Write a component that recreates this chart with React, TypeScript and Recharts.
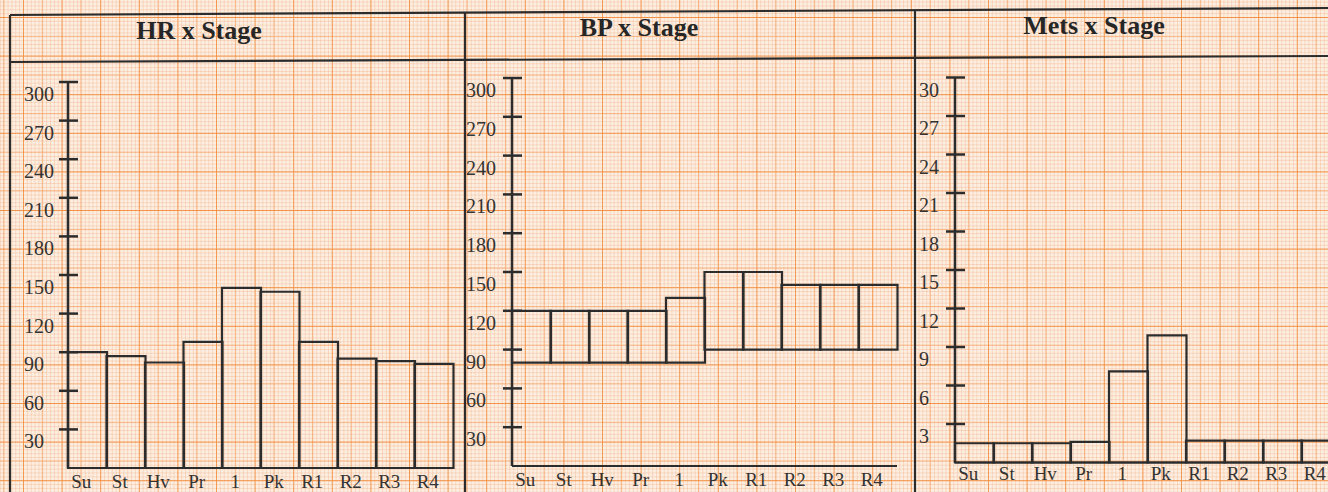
import { BarChart, Bar, XAxis, YAxis } from 'recharts'

const stages = ['Su', 'St', 'Hv', 'Pr', '1', 'Pk', 'R1', 'R2', 'R3', 'R4']
const hrValues = [90, 87, 82, 98, 140, 137, 98, 85, 83, 81]
const bpSystolic = [120, 120, 120, 120, 130, 150, 150, 140, 140, 140]
const bpDiastolic = [80, 80, 80, 80, 80, 90, 90, 90, 90, 90]
const metsValues = [1.5, 1.5, 1.5, 1.6, 7.1, 9.9, 1.7, 1.7, 1.7, 1.7]
const bpmTicks = [30, 60, 90, 120, 150, 180, 210, 240, 270, 300]
const metsTicks = [3, 6, 9, 12, 15, 18, 21, 24, 27, 30]

const INK = '#2c2c2c'
const SERIF = "'Liberation Serif', 'Times New Roman', serif"

const hrData = stages.map((s, i) => ({ stage: s, hr: hrValues[i] }))
const bpData = stages.map((s, i) => ({ stage: s, dia: bpDiastolic[i], span: bpSystolic[i] - bpDiastolic[i] }))
const metsData = stages.map((s, i) => ({ stage: s, mets: metsValues[i] }))

function yTick(labelOffset: number) {
  return ({ x, y, payload }: any) => (
    <g>
      <line x1={x - 9} x2={x + 10} y1={y} y2={y} stroke={INK} strokeWidth={2.5} />
      <text x={x - labelOffset} y={y + 19} fontSize={20} fill="#333" fontFamily={SERIF}>{payload.value}</text>
    </g>
  )
}

function xTick(dy: number) {
  return ({ x, y, payload }: any) => (
    <text x={x - 6} y={y + dy} fontSize={19} fill="#333" fontFamily={SERIF} textAnchor="middle">{payload.value}</text>
  )
}

function Title({ x, y, text }: { x: number, y: number, text: string }) {
  return (
    <div style={{ position:'absolute', left:x - 100, top:y - 16, width:200, textAlign:'center', fontFamily:SERIF, fontWeight:'bold', fontSize:26, color:'#262626', lineHeight:'32px' }}>
      {text}
    </div>
  )
}

export default function App() {
  return (
    <div style={{ position:'absolute', left:0, top:0, width:1328, height:492, overflow:'hidden', background:'#fcefe2' }}>
      <svg width={1328} height={492} style={{ position:'absolute', left:0, top:0 }}>
        <defs>
          <pattern id="fine" width={3.86} height={3.86} x={23} y={17} patternUnits="userSpaceOnUse">
            <path d="M0 0 V3.86 M0 0 H3.86" stroke="rgba(236,150,100,0.6)" strokeWidth={0.9} />
          </pattern>
          <pattern id="major" width={38.6} height={38.6} x={23} y={17} patternUnits="userSpaceOnUse">
            <path d="M19.3 0 V38.6 M0 19.3 H38.6" stroke="rgba(244,150,80,0.55)" strokeWidth={1.1} />
            <path d="M0 0 V38.6 M0 0 H38.6" stroke="rgba(243,135,50,0.85)" strokeWidth={1.8} />
          </pattern>
        </defs>
        <rect width={1328} height={492} fill="url(#fine)" />
        <rect width={1328} height={492} fill="url(#major)" />
        <g stroke={INK} strokeWidth={2.2}>
          <line x1={10} y1={15} x2={1328} y2={8} />
          <line x1={10} y1={62} x2={1328} y2={56} />
          <line x1={10} y1={15} x2={10} y2={492} />
          <line x1={465} y1={13} x2={465} y2={492} />
          <line x1={915} y1={10} x2={915} y2={492} />
        </g>
      </svg>

      <Title x={199} y={31} text="HR x Stage" />
      <Title x={639} y={28} text="BP x Stage" />
      <Title x={1094} y={26} text="Mets x Stage" />

      <div style={{ position:'absolute', left:0, top:0 }}>
        <BarChart width={465} height={492} data={hrData} margin={{ top:82, right:12, bottom:0, left:18 }} barCategoryGap={0} barGap={0}>
          <XAxis dataKey="stage" height={24} axisLine={{ stroke:INK, strokeWidth:2.2 }} tickLine={false} tickSize={0} tickMargin={0} tick={xTick(20)} interval={0} />
          <YAxis width={50} domain={[0, 300]} ticks={bpmTicks} axisLine={{ stroke:INK, strokeWidth:2.5 }} tickLine={false} tickSize={0} tickMargin={0} tick={yTick(44)} interval={0} />
          <Bar dataKey="hr" fill="none" stroke={INK} strokeWidth={2.2} isAnimationActive={false} />
        </BarChart>
      </div>

      <div style={{ position:'absolute', left:465, top:0 }}>
        <BarChart width={450} height={492} data={bpData} margin={{ top:78, right:18, bottom:0, left:0 }} barCategoryGap={0} barGap={0}>
          <XAxis dataKey="stage" height={26} axisLine={{ stroke:INK, strokeWidth:2.2 }} tickLine={false} tickSize={0} tickMargin={0} tick={xTick(20)} interval={0} />
          <YAxis width={47} domain={[0, 300]} ticks={bpmTicks} axisLine={{ stroke:INK, strokeWidth:2.5 }} tickLine={false} tickSize={0} tickMargin={0} tick={yTick(46)} interval={0} />
          <Bar dataKey="dia" stackId="bp" fill="none" stroke="none" isAnimationActive={false} />
          <Bar dataKey="span" stackId="bp" fill="none" stroke={INK} strokeWidth={2.2} isAnimationActive={false} />
        </BarChart>
      </div>

      <div style={{ position:'absolute', left:915, top:0 }}>
        <BarChart width={440} height={492} data={metsData} margin={{ top:77.5, right:15, bottom:0, left:0 }} barCategoryGap={0} barGap={0}>
          <XAxis dataKey="stage" height={29.5} axisLine={{ stroke:INK, strokeWidth:2.2 }} tickLine={false} tickSize={0} tickMargin={0} tick={xTick(17)} interval={0} />
          <YAxis width={40} domain={[0, 30]} ticks={metsTicks} axisLine={{ stroke:INK, strokeWidth:2.5 }} tickLine={false} tickSize={0} tickMargin={0} tick={yTick(36)} interval={0} />
          <Bar dataKey="mets" fill="none" stroke={INK} strokeWidth={2.2} isAnimationActive={false} />
        </BarChart>
      </div>
    </div>
  )
}
